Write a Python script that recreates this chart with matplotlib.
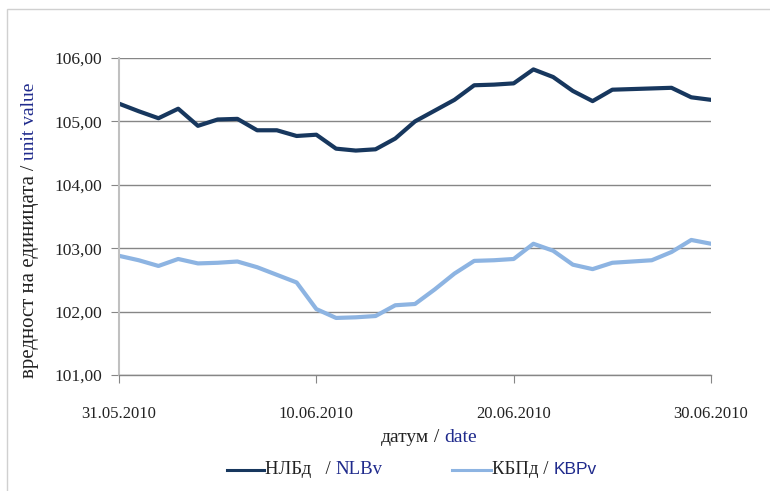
import numpy as np
import pandas as pd
import matplotlib
matplotlib.use("Agg")
import matplotlib.pyplot as plt
import matplotlib.dates as mdates
from matplotlib.lines import Line2D
from matplotlib.patches import Rectangle
from matplotlib.ticker import FuncFormatter

# daily unit values, 31.05.2010 - 30.06.2010
dates = pd.date_range("2010-05-31", "2010-06-30", freq="D")
nlbv = [105.28, 105.16, 105.05, 105.20, 104.93, 105.03, 105.04, 104.86,
        104.86, 104.77, 104.79, 104.57, 104.54, 104.56, 104.73, 105.00,
        105.17, 105.34, 105.57, 105.58, 105.60, 105.82, 105.70, 105.48,
        105.32, 105.50, 105.51, 105.52, 105.53, 105.38, 105.34]
kbpv = [102.88, 102.81, 102.72, 102.83, 102.76, 102.77, 102.79, 102.70,
        102.58, 102.46, 102.04, 101.90, 101.91, 101.93, 102.10, 102.12,
        102.35, 102.60, 102.80, 102.81, 102.83, 103.07, 102.96, 102.74,
        102.67, 102.77, 102.79, 102.81, 102.94, 103.13, 103.07]
date_ticks = ["2010-05-31", "2010-06-10", "2010-06-20", "2010-06-30"]
y_ticks = [101, 102, 103, 104, 105, 106]

DARK = "#17375E"
LIGHT = "#8DB4E2"
BLUE_TXT = "#1F2A8C"
SERIF = "Liberation Serif"

W, H = 770, 491
fig = plt.figure(figsize=(W / 100, H / 100), dpi=100)
fig.patch.set_facecolor("white")

# chart area border (only top/left visible)
fig.add_artist(Rectangle((7 / W, -0.1), 1.2, 1 - 9 / H + 0.1,
                         transform=fig.transFigure, fill=False,
                         edgecolor="#D0D0D0", linewidth=1.0))

ax = fig.add_axes([119 / W, 1 - 375 / H, (711 - 119) / W, (375 - 58) / H])
ax.plot(dates, nlbv, color=DARK, linewidth=3.0, solid_joinstyle="round")
ax.plot(dates, kbpv, color=LIGHT, linewidth=3.0, solid_joinstyle="round")

ax.set_xlim(dates[0], dates[-1])
ax.set_ylim(101, 106)
ax.set_yticks(y_ticks)
ax.yaxis.set_major_formatter(FuncFormatter(lambda v, p: f"{v:.2f}".replace(".", ",")))
ax.set_xticks(pd.to_datetime(date_ticks))
ax.xaxis.set_major_formatter(mdates.DateFormatter("%d.%m.%Y"))

ax.grid(axis="y", color="#868686", linewidth=1.0)
ax.set_axisbelow(True)
for s in ["top", "right"]:
    ax.spines[s].set_visible(False)
ax.spines["left"].set_color("#C0C0C0")
ax.spines["left"].set_linewidth(1.5)
ax.spines["bottom"].set_color("#868686")
ax.spines["bottom"].set_linewidth(1.0)
ax.tick_params(axis="y", length=6, color="#868686", pad=6,
               labelsize=12.5, labelcolor="#222222")
ax.tick_params(axis="x", length=6, color="#868686", pad=16,
               labelsize=12, labelcolor="#222222")
for lab in ax.get_xticklabels() + ax.get_yticklabels():
    lab.set_family(SERIF)


def put_pieces(x, y, pieces, rotation=0):
    """Place text pieces one after another, in pixel coords from top-left."""
    fig.canvas.draw()
    r = fig.canvas.get_renderer()
    pos = x if rotation == 0 else y
    for txt, col, fam, size in pieces:
        if rotation == 0:
            t = fig.text(pos / W, 1 - y / H, txt, color=col, family=fam,
                         fontsize=size, ha="left", va="center")
            pos += t.get_window_extent(r).width
        else:
            t = fig.text(x / W, 1 - pos / H, txt, color=col, family=fam,
                         fontsize=size, ha="center", va="bottom", rotation=90)
            pos -= t.get_window_extent(r).height


put_pieces(30, 378, [("вредност на единицата", "#222222", SERIF, 15),
                     (" / ", "#222222", SERIF, 14),
                     ("unit value", BLUE_TXT, SERIF, 14)], rotation=90)
put_pieces(381, 437, [("датум", "#222222", SERIF, 14),
                      (" / ", "#222222", SERIF, 14),
                      ("date", BLUE_TXT, SERIF, 14)])

# legend
fig.add_artist(Line2D([227 / W, 264 / W], [1 - 470 / H] * 2, color=DARK,
                      linewidth=2.2, transform=fig.transFigure))
fig.add_artist(Line2D([452 / W, 491 / W], [1 - 470 / H] * 2, color=LIGHT,
                      linewidth=2.2, transform=fig.transFigure))
put_pieces(265, 470, [("НЛБд   / ", "#222222", SERIF, 13.5),
                      ("NLBv", BLUE_TXT, SERIF, 13.5)])
put_pieces(492, 470, [("КБПд / ", "#222222", SERIF, 13.5),
                      ("KBPv", BLUE_TXT, "Liberation Sans", 12.5)])

fig.savefig("out.png", dpi=100)
